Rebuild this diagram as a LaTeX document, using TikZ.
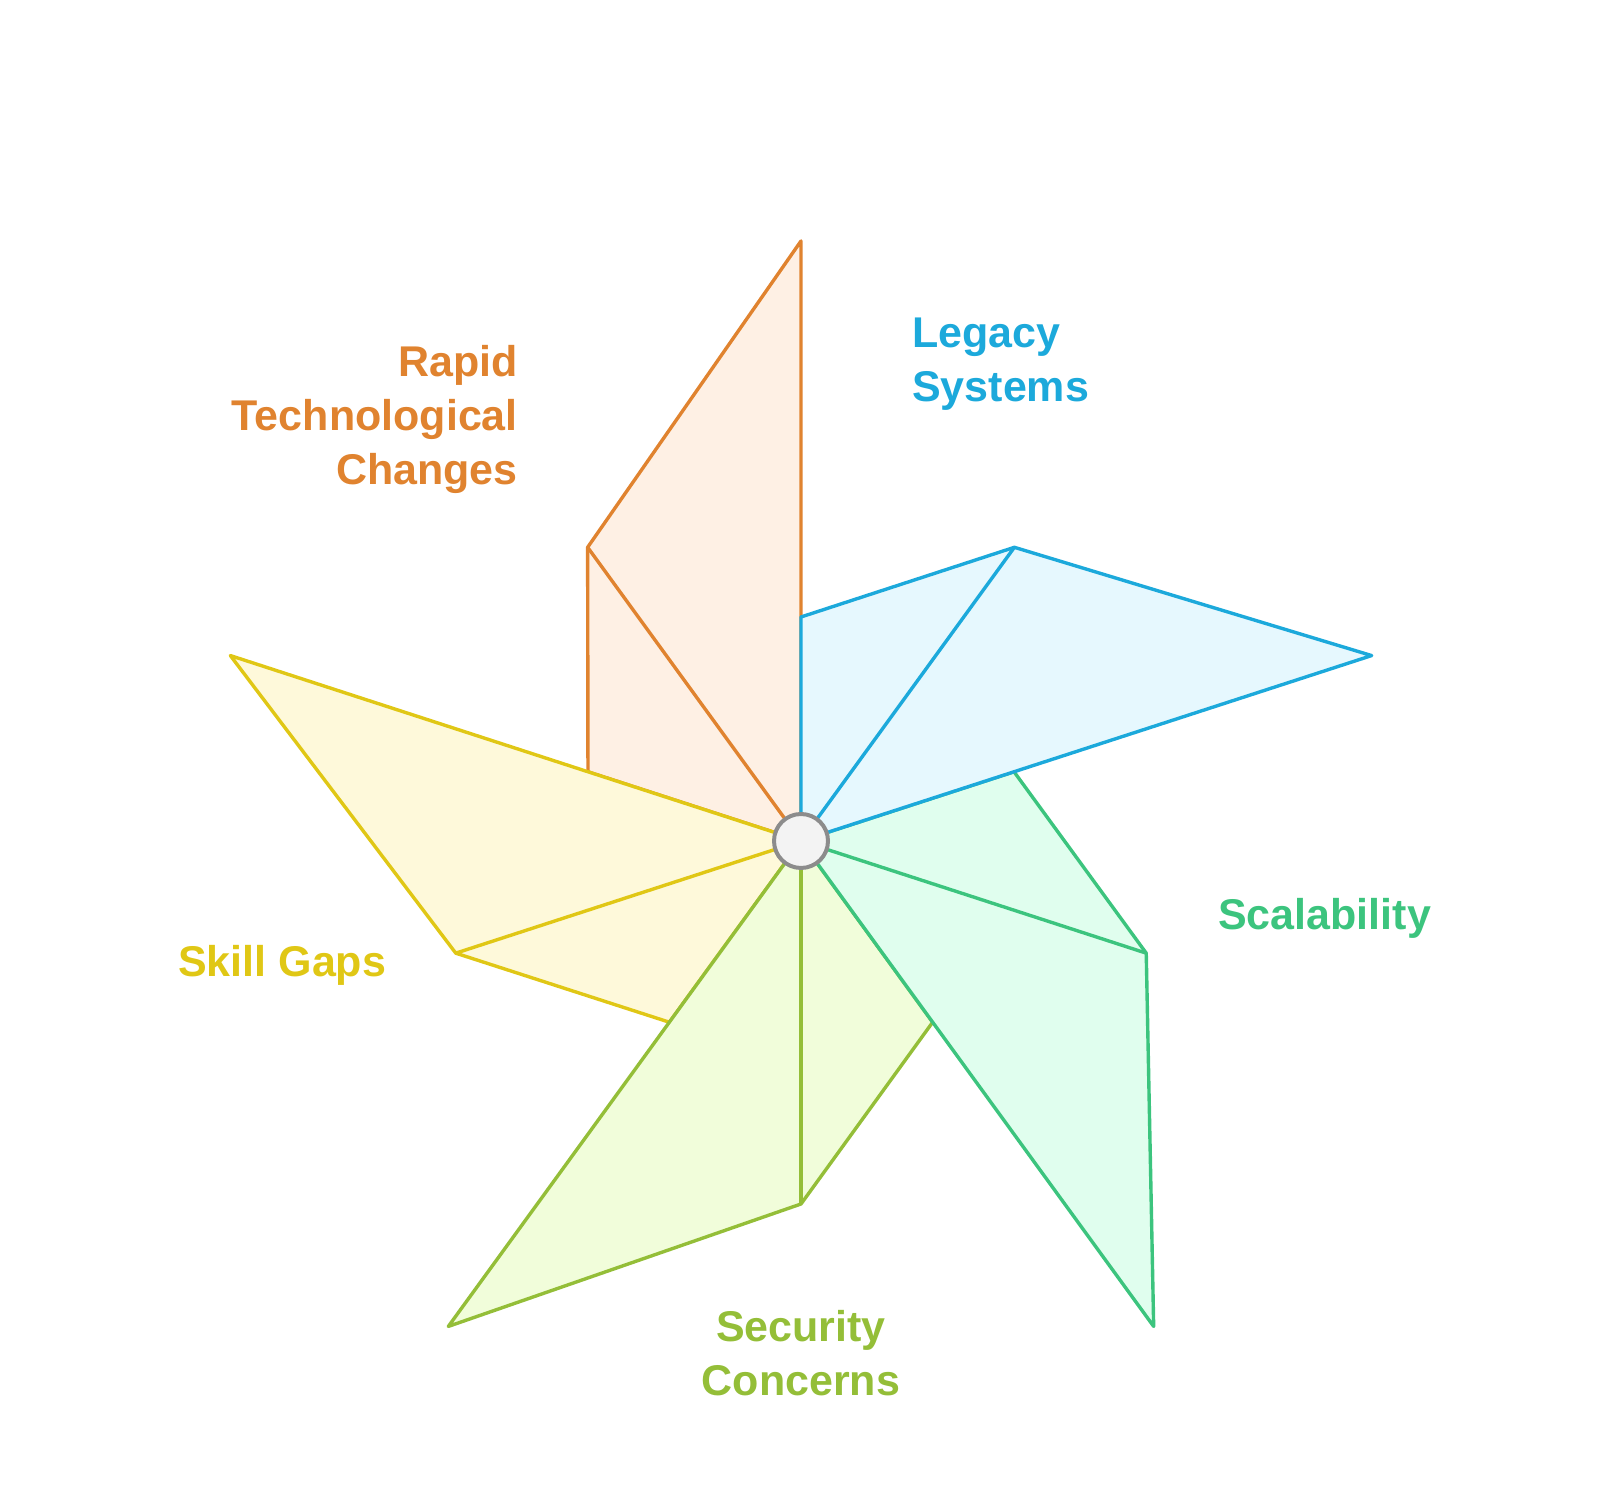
\documentclass[tikz,border=0pt]{standalone}
\usepackage{fontspec}
\setmainfont{Liberation Sans}
\usepackage{xcolor}
\usepackage{tikz}
\usetikzlibrary{calc}

\definecolor{rapidline}{HTML}{E0832F}
\definecolor{rapidfill}{HTML}{FEF0E4}
\definecolor{legacyline}{HTML}{1CA9DB}
\definecolor{legacyfill}{HTML}{E6F8FE}
\definecolor{scalline}{HTML}{3CC47E}
\definecolor{scalfill}{HTML}{E0FEEE}
\definecolor{securline}{HTML}{94BE38}
\definecolor{securfill}{HTML}{F1FDDA}
\definecolor{skillline}{HTML}{E0C715}
\definecolor{skillfill}{HTML}{FEF9DA}
\definecolor{hubline}{HTML}{8C8C8C}
\definecolor{hubfill}{HTML}{F3F3F3}

\begin{document}
\begin{tikzpicture}[
                x=1pt, y=1pt,
                blade/.style={line width=3.4pt, line join=round},
                hub/.style={circle, draw=hubline, fill=hubfill, line width=4pt, minimum size=54pt, inner sep=0pt},
                lbl/.style={font=\fontsize{43}{54}\selectfont\bfseries, inner sep=0pt}
            ]
                \useasboundingbox (0,0) rectangle (1600,1490);
                \coordinate (mid) at (801,649);

                % Blades
                \foreach \ang/\name in {90/rapid, 162/skill, -126/secur, -54/scal, 18/legacy} {
                    \coordinate (\name tip) at ($(mid)+(\ang:600)$);
                    \coordinate (\name knee) at ($(mid)+(\ang+36:363)$);
                    \coordinate (\name foot) at ($(mid)+(\ang+72:224)$);
                    \filldraw[blade, draw=\name line, fill=\name fill]
                        (mid) -- (\name tip) -- (\name knee) -- (\name foot) -- cycle;
                    \draw[blade, draw=\name line] (mid) -- (\name knee);
                }

                % Hub
                \node[hub] (centre) at (mid) {};

                % Labels (base = baseline of the last line)
                \node[lbl, text=rapidline, align=right, anchor=base east] (rapid) at (518,1005) {Rapid\\Technological\\Changes};
                \node[lbl, text=legacyline, align=left, anchor=base west] (legacy) at (912,1088) {Legacy\\Systems};
                \node[lbl, text=scalline, anchor=base west] (scal) at (1218,560) {Scalability};
                \node[lbl, text=securline, align=center, anchor=base] (secur) at (801,94) {Security\\Concerns};
                \node[lbl, text=skillline, anchor=base west] (skill) at (178,513) {Skill Gaps};
            \end{tikzpicture}
\end{document}
